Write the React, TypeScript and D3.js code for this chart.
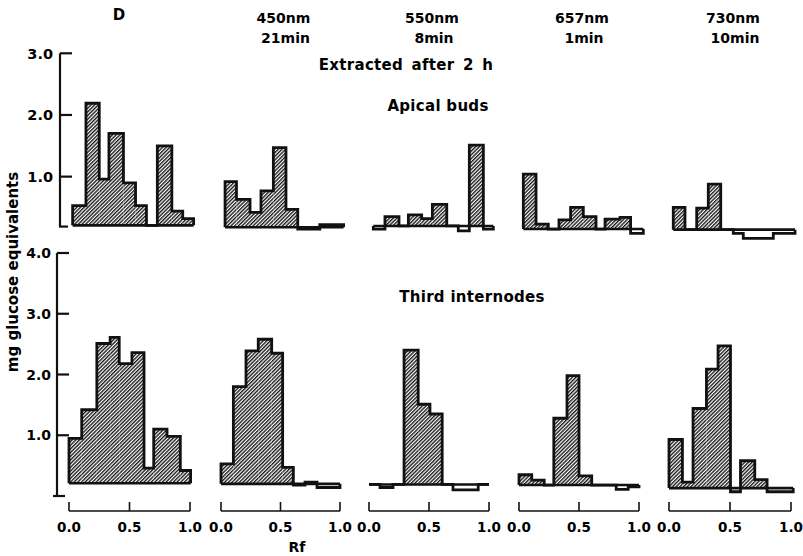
import React from 'react';
import * as d3 from 'd3';

// ---------- text ----------
const wavelengths = ['D', '450nm', '550nm', '657nm', '730nm'];
const durations = ['', '21min', '8min', '1min', '10min'];
const yLabel = 'mg  glucose  equivalents';
const xLabel = 'Rf';

// ---------- ticks ----------
const rfTicks = [0, 0.5, 1];
const rfTickLabels = ['0.0', '0.5', '1.0'];
const apicalTicks = [3, 2, 1];
const internodeTicks = [4, 3, 2, 1];

// ---------- Apical buds: bin edges (Rf) and values (mg glucose eq.) ----------
const apicalEdgesD = [0.03, 0.14, 0.25, 0.33, 0.45, 0.55, 0.64, 0.73, 0.85, 0.94, 1.03];
const apicalValuesD = [0.53, 2.19, 0.96, 1.7, 0.9, 0.53, 0.21, 1.5, 0.44, 0.32];
const apicalEdges450 = [0.034, 0.13, 0.244, 0.336, 0.44, 0.546, 0.645, 0.83, 1.03];
const apicalValues450 = [0.92, 0.63, 0.42, 0.77, 1.47, 0.47, 0.15, 0.22];
const apicalEdges550 = [0.036, 0.133, 0.25, 0.328, 0.439, 0.528, 0.648, 0.744, 0.836, 0.953, 1.036];
const apicalValues550 = [0.15, 0.35, 0.2, 0.38, 0.32, 0.55, 0.2, 0.12, 1.51, 0.15];
const apicalEdges657 = [0.036, 0.142, 0.244, 0.333, 0.43, 0.536, 0.642, 0.717, 0.842, 0.93, 1.036];
const apicalValues657 = [1.04, 0.23, 0.15, 0.3, 0.5, 0.35, 0.15, 0.31, 0.34, 0.08];
const apicalEdges730 = [0.035, 0.131, 0.227, 0.322, 0.424, 0.527, 0.609, 0.855, 1.033];
const apicalValues730 = [0.5, 0.14, 0.49, 0.88, 0.14, 0.08, 0.0, 0.08];
const apicalBaselines = [0.21, 0.18, 0.2, 0.15, 0.14];

// ---------- Third internodes ----------
const internodeEdgesD = [0, 0.105, 0.23, 0.34, 0.415, 0.52, 0.62, 0.7, 0.81, 0.92, 1.005];
const internodeValuesD = [0.95, 1.42, 2.51, 2.61, 2.18, 2.36, 0.46, 1.1, 0.98, 0.42];
const internodeEdges450 = [0, 0.104, 0.21, 0.313, 0.426, 0.518, 0.608, 0.706, 0.807, 1.0];
const internodeValues450 = [0.53, 1.8, 2.39, 2.58, 2.35, 0.47, 0.18, 0.23, 0.14];
const internodeEdges550 = [0, 0.092, 0.2, 0.292, 0.41, 0.508, 0.61, 0.7, 0.91, 1.0];
const internodeValues550 = [0.19, 0.14, 0.19, 2.4, 1.51, 1.35, 0.19, 0.1, 0.19];
const internodeEdges657 = [0, 0.106, 0.21, 0.29, 0.4, 0.5, 0.606, 0.81, 0.91, 1.0];
const internodeValues657 = [0.35, 0.26, 0.18, 1.28, 1.98, 0.33, 0.18, 0.11, 0.15];
const internodeEdges730 = [0, 0.11, 0.197, 0.307, 0.402, 0.504, 0.586, 0.703, 0.804, 1.018];
const internodeValues730 = [0.93, 0.23, 1.44, 2.09, 2.47, 0.07, 0.58, 0.27, 0.07];
const internodeBaselines = [0.21, 0.2, 0.19, 0.18, 0.13];

const apicalEdges = [apicalEdgesD, apicalEdges450, apicalEdges550, apicalEdges657, apicalEdges730];
const apicalValues = [apicalValuesD, apicalValues450, apicalValues550, apicalValues657, apicalValues730];
const internodeEdges = [internodeEdgesD, internodeEdges450, internodeEdges550, internodeEdges657, internodeEdges730];
const internodeValues = [internodeValuesD, internodeValues450, internodeValues550, internodeValues657, internodeValues730];

// ---------- layout ----------
const W = 803;
const H = 556;
const colX0 = [69, 221, 369, 519, 669];
const colX1 = [190, 340, 489, 639, 791];
const FONT = '"DejaVu Sans", sans-serif';

const yTop = d3.scaleLinear().domain([0, 3]).range([238.3, 53.3]);
const yBot = d3.scaleLinear().domain([0, 4]).range([496, 253]);

function Hist({ edges, values, base, x, y }: any) {
  const bars = values.map((v: number, i: number) => ({ a: x(edges[i]), b: x(edges[i + 1]), v }));
  const yb = y(base);
  const pts: [number, number][] = [[bars[0].a, yb]];
  bars.forEach((b: any) => {
    pts.push([b.a, y(b.v)]);
    pts.push([b.b, y(b.v)]);
  });
  pts.push([bars[bars.length - 1].b, yb]);
  const line = d3.line();
  return (
    <g>
      {bars
        .filter((b: any) => b.v > base)
        .map((b: any, i: number) => (
          <rect key={i} x={b.a} y={y(b.v)} width={b.b - b.a} height={yb - y(b.v)} fill="url(#hatch)" />
        ))}
      <line x1={bars[0].a} x2={bars[bars.length - 1].b} y1={yb} y2={yb} stroke="#111" strokeWidth={2.6} />
      <path d={line(pts) || ''} fill="none" stroke="#111" strokeWidth={2.8} strokeLinejoin="miter" />
    </g>
  );
}

export default function App() {
  return (
    <svg
      width={W}
      height={H}
      viewBox={`0 0 ${W} ${H}`}
      style={{ position: 'absolute', left: 0, top: 0, background: '#fff' }}
      fontFamily={FONT}
      fontWeight="bold"
    >
      <defs>
        <pattern id="hatch" patternUnits="userSpaceOnUse" width={2.6} height={2.6} patternTransform="rotate(45)">
          <rect width={2.6} height={2.6} fill="#fff" />
          <line x1={0.7} y1={0} x2={0.7} y2={2.6} stroke="#111" strokeWidth={1.35} />
        </pattern>
      </defs>
      <rect width={W} height={H} fill="#fff" />

      {/* column headers */}
      {wavelengths.map((w, i) => {
        const cx = i === 0 ? 119 : (colX0[i] + colX1[i]) / 2 + 3;
        return (
          <g key={w}>
            <text x={cx} y={i === 0 ? 19.5 : 22.5} textAnchor="middle" fontSize={i === 0 ? 15 : 14}>
              {w}
            </text>
            {durations[i] && (
              <text x={cx + 2} y={42.5} textAnchor="middle" fontSize={14}>
                {durations[i]}
              </text>
            )}
          </g>
        );
      })}

      <text x={406} y={70} textAnchor="middle" fontSize={15} letterSpacing={0.3} wordSpacing={3}>
        Extracted after 2 h
      </text>
      <text x={438} y={111} textAnchor="middle" fontSize={15} letterSpacing={0.3}>
        Apical buds
      </text>
      <text x={472} y={302} textAnchor="middle" fontSize={15} letterSpacing={0.3}>
        Third internodes
      </text>

      {/* y label */}
      <text x={18} y={272} textAnchor="middle" fontSize={15} transform="rotate(-90, 18, 272)">
        {yLabel}
      </text>

      {/* top y axis */}
      <g stroke="#111" strokeWidth={2.2}>
        <line x1={60} x2={60} y1={yTop(3)} y2={yTop(0.19)} />
        {apicalTicks.map((t) => (
          <line key={t} x1={60} x2={72} y1={yTop(t)} y2={yTop(t)} />
        ))}
        <line x1={59} x2={68} y1={yTop(0.19)} y2={yTop(0.19)} />
      </g>
      {apicalTicks.map((t) => (
        <text key={t} x={53} y={yTop(t) + 5.5} textAnchor="end" fontSize={14.5}>
          {t.toFixed(1)}
        </text>
      ))}

      {/* bottom y axis */}
      <g stroke="#111" strokeWidth={2.2}>
        <line x1={57} x2={57} y1={yBot(4)} y2={yBot(0)} />
        {internodeTicks.map((t) => (
          <line key={t} x1={57} x2={69} y1={yBot(t)} y2={yBot(t)} />
        ))}
        <line x1={53} x2={65} y1={yBot(0)} y2={yBot(0)} />
      </g>
      {internodeTicks.map((t) => (
        <text key={t} x={51} y={yBot(t) + 5} textAnchor="end" fontSize={14}>
          {t.toFixed(1)}
        </text>
      ))}

      {/* histograms + x axes */}
      {wavelengths.map((w, i) => {
        const x = d3.scaleLinear().domain([0, 1]).range([colX0[i], colX1[i]]);
        return (
          <g key={w}>
            <Hist edges={apicalEdges[i]} values={apicalValues[i]} base={apicalBaselines[i]} x={x} y={yTop} />
            <Hist
              edges={internodeEdges[i]}
              values={internodeValues[i]}
              base={internodeBaselines[i]}
              x={x}
              y={yBot}
            />
            <g stroke="#111" strokeWidth={1.6}>
              <line x1={x(0)} x2={x(1)} y1={511} y2={511} />
              {rfTicks.map((t) => (
                <line key={t} x1={x(t)} x2={x(t)} y1={502} y2={511} />
              ))}
            </g>
            {rfTicks.map((t, k) => (
              <text key={t} x={x(t)} y={532} textAnchor="middle" fontSize={13.5}>
                {rfTickLabels[k]}
              </text>
            ))}
          </g>
        );
      })}

      <text x={297} y={552} textAnchor="middle" fontSize={14}>
        {xLabel}
      </text>
    </svg>
  );
}
